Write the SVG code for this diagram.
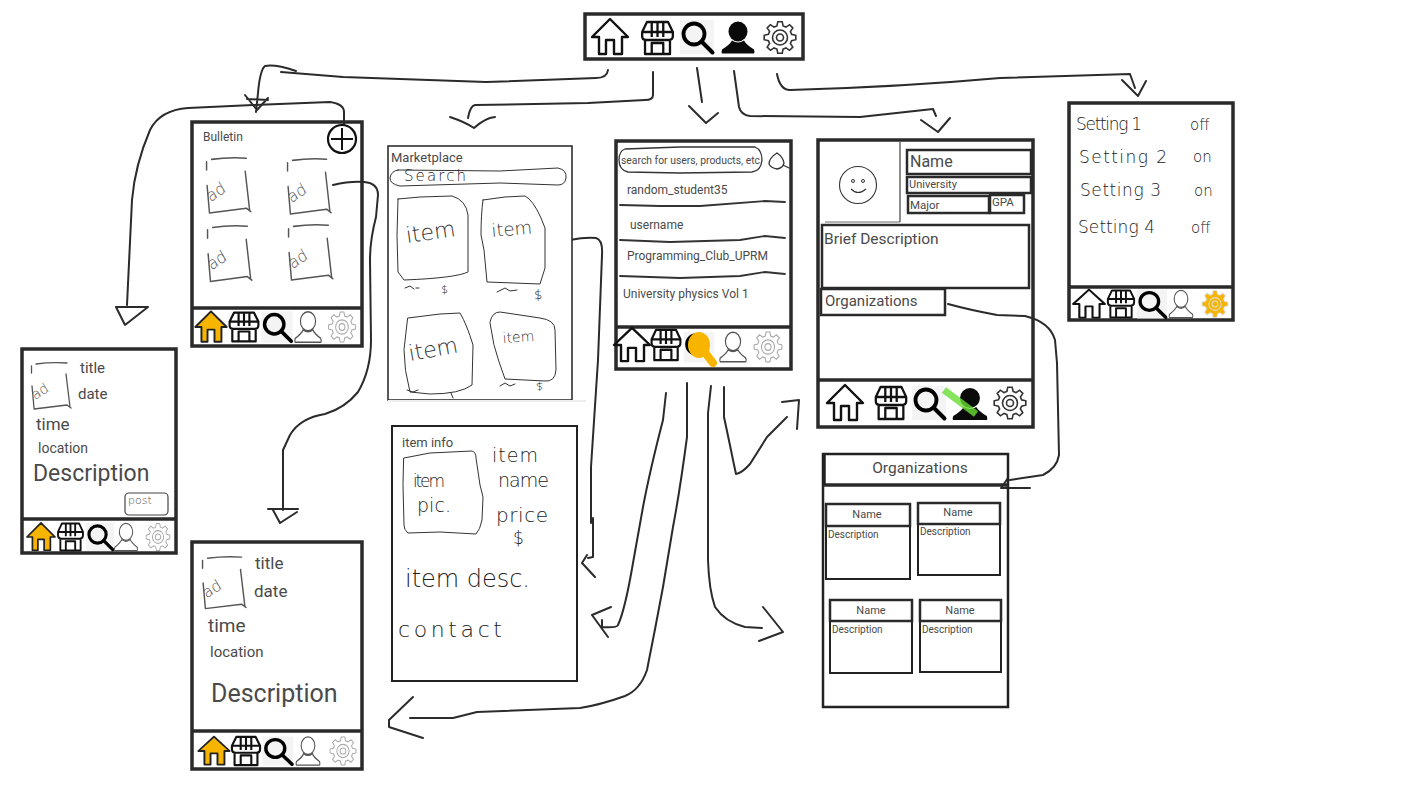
<svg xmlns="http://www.w3.org/2000/svg" xmlns:xlink="http://www.w3.org/1999/xlink" width="1422" height="800" viewBox="0 0 1422 800">
<style>
text{font-family:Roboto,"Liberation Sans",sans-serif;fill:#4a4a4a}
.hand{font-family:"DejaVu Sans",sans-serif;font-weight:200;fill:#222}
.f{fill:none;stroke:#2a2a2a;stroke-width:3.5}
.f2{fill:none;stroke:#222;stroke-width:2}
.f1{fill:none;stroke:#222;stroke-width:1.5}
.b{fill:#fff;stroke:#2a2a2a;stroke-width:2.5}
.sk{fill:none;stroke:#333;stroke-width:1;stroke-linecap:round;stroke-linejoin:round}
.sk2{fill:none;stroke:#555;stroke-width:1.3;stroke-linecap:round;stroke-linejoin:round}
.w{fill:none;stroke:#333;stroke-width:1.8;stroke-linecap:round}
.c path{fill:none;stroke:#2b2b2b;stroke-width:2;stroke-linecap:round;stroke-linejoin:round}
.dk{fill:none;stroke:#111;stroke-width:2.4;stroke-linejoin:round}
.or{fill:#f7b500;stroke:#222;stroke-width:2.2;stroke-linejoin:round}
.us{fill:#0a0a0a;stroke:none}
.ol{fill:none;stroke:#555;stroke-width:1.5}
.gd{fill:none;stroke:#333;stroke-width:1.6}
.gl{fill:none;stroke:#aaa;stroke-width:1.2}
.go{fill:#f7b500;stroke:#ddd;stroke-width:1.2}
</style>
<defs>
<g id="i-home"><path d="M0-18 18 0H12V17H4V3H-4V17H-11V0H-18Z"/></g>
<g id="i-store"><path d="M-11-16H11L16-6V-2Q16 2 12 2H-12Q-16 2-16-2V-6ZM-16-6H16M-6-16V-1M0-16V-1M6-16V-1M-13 2V16H13V2M-6 16V5H6V16"/></g>
<g id="i-search"><rect x="-17" y="-17" width="34" height="34" fill="#f4f4f4" stroke="none"/><circle cx="-3" cy="-3" r="10.500" fill="none" stroke="#000" stroke-width="3.800"/><path d="M4.500 4.500 15.500 15.500" fill="none" stroke="#000" stroke-width="4" stroke-linecap="round"/></g>
<g id="i-user"><ellipse cx="0" cy="-6" rx="9.500" ry="10"/><path d="M-6 3Q-8 7-16 12-17 15-16 16H16Q17 15 16 12 8 7 6 3Q0 7-6 3Z"/></g>
<g id="i-gear"><path d="M11.600-3.100 15.800-2.200V2.200L11.600 3.100 10.400 6 12.800 9.600 9.600 12.800 6 10.400 3.100 11.600 2.200 15.800H-2.200L-3.100 11.600-6 10.400-9.600 12.800-12.800 9.600-10.400 6-11.600 3.100-15.800 2.200V-2.200L-11.600-3.100-10.400-6-12.800-9.600-9.600-12.800-6-10.400-3.100-11.600-2.200-15.800H2.200L3.100-11.600 6-10.400 9.600-12.800 12.800-9.600 10.400-6Z"/><circle r="7.500"/><circle r="3.500"/></g>
<g id="ad"><path class="sk2" d="M5 2Q20 0 36 1M0.500 4V11M1 24 3 46M3 47 36 43 40 46M35 12 39 45"/><text class="hand" font-size="14" transform="translate(4 38) rotate(-32)" style="fill:#555">ad</text></g>
</defs>

<g id="connectors" class="c">
<path d="M608 70Q607 78 596 78L486 82 343 77 281 72"/>
<path d="M296 71Q275 64 265 66 260 70 258 93L256 112M245 95 257 110 268 98M247 99 268 100"/>
<path d="M344 125V112Q344 104 330 102L253 105 188 108Q160 110 150 130 135 165 132 200L127 305M116 307H148L125 325 116 307"/>
<path d="M653 72V95Q653 100 645 100L588 103 475 105Q470 106 468 118M450 117Q465 122 474 128 485 118 495 117"/>
<path d="M697 68 702 102M689 106 706 123 718 113"/>
<path d="M734 71 739 107Q741 115 750 116L860 117 933 109 936 116M921 120 938 132 950 118"/>
<path d="M777 74Q780 90 790 90 900 87 1000 78L1130 74 1135 88M1122 80 1138 96 1146 81"/>
<path d="M333 185Q350 181 364 182 378 183 378 195L376 217Q370 240 370 260L371 340Q371 370 358 392 345 408 325 414 300 418 290 435L283 450V510M268 509H298M273 510 280 523 297 512"/>
<path d="M570 240Q585 237 596 238 603 240 602 255L598 360 591 467V523M593 518V557L588 558M587 555 582 563 595 577"/>
<path d="M666 393 663 420Q650 470 643 507L633 563Q625 610 618 625 617 628 602 627V620M611 607 592 615 608 637"/>
<path d="M687 383V437Q680 490 673 527L663 587Q655 630 647 670 640 690 625 696 600 705 580 708L477 712 453 718H410M413 697 389 720V727L423 738"/>
<path d="M711 386 708 413V560Q709 590 715 607 725 622 745 627L762 628M763 607 783 632 759 641"/>
<path d="M724 387V417Q730 445 733 460L736 474Q742 473 750 464L767 437 787 417M782 402 799 400 797 429"/>
<path d="M948 304Q970 310 997 315L1025 316Q1050 322 1055 340L1057 363 1059 455Q1057 468 1043 475L1010 480M1008 478 1001 488H1030"/>
</g>

<g id="top-bar">
<rect class="f" x="585" y="14" width="218" height="45" style="fill:#fff"/>
<use href="#i-home" class="dk" transform="translate(610 37)"/>
<use href="#i-store" class="dk" transform="translate(657.500 38) scale(.96 1)"/>
<use href="#i-search" transform="translate(697 37)"/>
<use href="#i-user" class="us" transform="translate(738 37.500)"/>
<use href="#i-gear" class="gd" transform="translate(780 37.500)"/>
</g>

<g id="bulletin">
<rect class="f" x="192" y="122" width="170" height="224"/>
<path class="f" d="M192 308H362"/>
<text x="203" y="141" font-size="12">Bulletin</text>
<circle cx="342" cy="139" r="14" fill="#fff" stroke="#111" stroke-width="2.200"/>
<path d="M342 128V150M331 139H353" stroke="#111" stroke-width="2" fill="none"/>
<use href="#ad" transform="translate(206 157) scale(1.120 1.190)"/>
<use href="#ad" transform="translate(287 158) scale(1.100 1.190)"/>
<use href="#ad" transform="translate(207 225) scale(1.120 1.200)"/>
<use href="#ad" transform="translate(288 224) scale(1.120 1.190)"/>
<use href="#i-home" class="or" transform="translate(211 327) scale(.87)"/>
<use href="#i-store" class="dk" transform="translate(244 327) scale(.9)"/>
<use href="#i-search" transform="translate(277 327) scale(.92)"/>
<use href="#i-user" class="ol" transform="translate(308 327) scale(.8 .95)"/>
<use href="#i-gear" class="gl" transform="translate(342 327) scale(.85 .95)"/>
</g>

<g id="post-editor">
<rect class="f" x="22" y="349" width="154" height="204"/>
<path class="f" d="M22 519H176"/>
<use href="#ad" transform="translate(31 362)"/>
<text x="80" y="373" font-size="15">title</text>
<text x="78" y="399" font-size="15">date</text>
<text x="36" y="430" font-size="17">time</text>
<text x="38" y="453" font-size="14">location</text>
<text x="33" y="481" font-size="23">Description</text>
<rect x="125" y="493" width="43" height="22" rx="4" fill="#fff" stroke="#444" stroke-width="1.200"/>
<text class="hand" x="128" y="504" font-size="11" style="fill:#555">post</text>
<use href="#i-home" class="or" transform="translate(41 537) scale(.78)"/>
<use href="#i-store" class="dk" transform="translate(70.500 537) scale(.78 .85)"/>
<use href="#i-search" transform="translate(100 537) scale(.82)"/>
<use href="#i-user" class="ol" transform="translate(126 537) scale(.7 .85)"/>
<use href="#i-gear" class="gl" transform="translate(158 537) scale(.75 .85)"/>
</g>

<g id="post-detail">
<rect class="f" x="192" y="542" width="170" height="227"/>
<path class="f" d="M192 731H362"/>
<use href="#ad" transform="translate(202 556) scale(1.100 1.120)"/>
<text x="255" y="569" font-size="17">title</text>
<text x="254" y="597" font-size="17">date</text>
<text x="208" y="632" font-size="19">time</text>
<text x="210" y="657" font-size="15">location</text>
<text x="211" y="702" font-size="25">Description</text>
<use href="#i-home" class="or" transform="translate(214 751) scale(.87 .8)"/>
<use href="#i-store" class="dk" transform="translate(246 751) scale(.88 .88)"/>
<use href="#i-search" transform="translate(278 751) scale(.9 .85)"/>
<use href="#i-user" class="ol" transform="translate(308 751) scale(.72 .88)"/>
<use href="#i-gear" class="gl" transform="translate(343 751) scale(.82 .88)"/>
</g>

<g id="marketplace">
<rect x="388" y="146" width="184" height="254" fill="#fff" stroke="#222" stroke-width="1.500"/>
<path d="M388 401H586" stroke="#eee" stroke-width="2" fill="none"/>
<text x="391" y="162" font-size="13">Marketplace</text>
<path class="sk" d="M398 170 500 171 558 168Q567 170 566 178 565 185 558 185L500 183 400 186Q390 184 390 178 391 171 398 170Z"/>
<text class="hand" x="404" y="181" font-size="15" textLength="62" lengthAdjust="spacing">Search</text>
<path class="sk" d="M398 199 420 197 452 196Q466 200 468 215L468 272Q455 278 404 280L398 272Q396 235 398 199Z"/>
<path class="sk" d="M483 200 505 197 525 196Q533 200 541 218L545 228 545 268 540 284 487 282 484 250 481 235Q481 215 483 200Z"/>
<path class="sk" d="M408 318 440 314 460 313Q467 325 473 345L472 385Q460 394 430 394L410 392Q404 370 404 350Z"/>
<path class="sk" d="M490 322Q492 312 500 312L540 318Q555 320 555 330L556 370Q555 382 545 381L505 379Q498 360 494 345Z"/>
<text class="hand" transform="translate(407 243) rotate(-8)" font-size="22" style="fill:#333">item</text>
<text class="hand" transform="translate(492 237) rotate(-5)" font-size="18" style="fill:#333">item</text>
<text class="hand" transform="translate(410 361) rotate(-10)" font-size="22" style="fill:#333">item</text>
<text class="hand" transform="translate(503 343) rotate(-4)" font-size="14" style="fill:#333">item</text>
<path class="sk" d="M405 288 410 286 414 289M416 288H419M497 292 505 288 510 291 517 290M500 386 505 383 510 386 515 384M407 390 413 392 418 390"/>
<text class="hand" x="441" y="293" font-size="11">$</text>
<text class="hand" x="534" y="299" font-size="13">$</text>
<text class="hand" x="533" y="393" font-size="11" transform="rotate(180 538 388)">$</text>
<path class="sk" d="M451 393 453 398"/>
</g>

<g id="item-info">
<rect class="f2" x="392" y="426" width="185" height="255"/>
<text x="402" y="447" font-size="13">item info</text>
<path class="sk" d="M404 458 430 453 472 451Q476 452 476 458L480 485 483 497 482 520Q480 530 476 534L440 532 408 533Q404 530 404 525L403 485Z"/>
<text class="hand" x="413" y="487" font-size="17" textLength="32" lengthAdjust="spacing">item</text>
<text class="hand" x="417" y="512" font-size="19" textLength="34" lengthAdjust="spacing">pic.</text>
<text class="hand" x="492" y="462" font-size="19" textLength="46" lengthAdjust="spacing">item</text>
<text class="hand" x="498" y="487" font-size="19" textLength="51" lengthAdjust="spacing">name</text>
<text class="hand" x="496" y="522" font-size="20" textLength="52" lengthAdjust="spacing">price</text>
<text class="hand" x="513" y="544" font-size="17">$</text>
<text class="hand" x="405" y="587" font-size="24" textLength="125" lengthAdjust="spacing">item desc.</text>
<text class="hand" x="398" y="637" font-size="22" textLength="104" lengthAdjust="spacing">contact</text>
</g>

<g id="search">
<rect class="f" x="616" y="141" width="175" height="228"/>
<path class="f" d="M616 327H791"/>
<path class="sk2" style="stroke:#333" d="M625 149 680 147 755 147Q762 150 762 160 761 171 752 172L680 173 628 172Q619 170 619 160 619 151 625 149Z"/>
<text x="621" y="164" font-size="10.500" textLength="139" lengthAdjust="spacingAndGlyphs">search for users, products, etc</text>
<path class="sk" style="stroke-width:1.300" d="M777 153Q769 158 769 164 771 168 777 169 783 168 784 163 783 157 777 153M783 165 789 168"/>
<text x="627" y="194" font-size="12">random_student35</text>
<path class="w" d="M620 205 660 206 700 206 765 201 785 202"/>
<text x="630" y="229" font-size="12">username</text>
<path class="w" d="M620 240 670 242 740 240 765 236 785 238"/>
<text x="627" y="260" font-size="12">Programming_Club_UPRM</text>
<path class="w" d="M620 276 680 278 740 276 765 272 785 274"/>
<text x="623" y="298" font-size="12">University physics Vol 1</text>
<use href="#i-home" class="dk" transform="translate(632 345) scale(1 .95)"/>
<use href="#i-store" class="dk" transform="translate(666 345) scale(.9 .95)"/>
<use href="#i-search" transform="translate(699 347) scale(.9)"/>
<ellipse cx="699" cy="345" rx="11" ry="13" fill="#f7b500"/>
<path d="M703 350 713 363" fill="none" stroke="#f7b500" stroke-width="8" stroke-linecap="round"/>
<use href="#i-user" class="ol" transform="translate(733 347) scale(.8 .92)"/>
<use href="#i-gear" class="gl" transform="translate(768 347) scale(.88 .95)"/>
</g>

<g id="profile">
<rect class="f" x="818" y="140" width="215" height="287"/>
<path class="f" d="M818 380H1033"/>
<path d="M900 142V222" stroke="#666" stroke-width="1.500" fill="none"/>
<path d="M825 222H900" stroke="#666" stroke-width="1" fill="none"/>
<circle cx="858" cy="185" r="18.500" fill="#fff" stroke="#333" stroke-width="1.100"/>
<circle cx="853" cy="181" r="1.500" fill="none" stroke="#333"/>
<circle cx="863" cy="181" r="1.500" fill="none" stroke="#333"/>
<path d="M851 189Q858 196 866 189" fill="none" stroke="#333" stroke-width="1.100"/>
<rect class="b" x="907" y="150" width="124" height="24"/>
<text x="910" y="167" font-size="16">Name</text>
<rect class="b" x="907" y="177" width="124" height="16"/>
<text x="909" y="188" font-size="11">University</text>
<rect class="b" x="908" y="196" width="81" height="17"/>
<text x="910" y="209" font-size="11.500">Major</text>
<rect class="b" x="990" y="195" width="34" height="18"/>
<text x="992" y="206" font-size="11.500">GPA</text>
<rect class="b" x="822" y="225" width="207" height="63"/>
<text x="824" y="244" font-size="15.500">Brief Description</text>
<rect class="b" x="821" y="289" width="124" height="26"/>
<text x="825" y="306" font-size="15">Organizations</text>
<use href="#i-home" class="dk" transform="translate(845 403)"/>
<use href="#i-store" class="dk" transform="translate(891 403) scale(.95 1)"/>
<use href="#i-search" transform="translate(929 403)"/>
<use href="#i-user" class="us" transform="translate(970 404) scale(1.050 1)"/>
<path d="M944 390 976 414" stroke="#66dd33" stroke-width="7" opacity=".8" fill="none"/>
<use href="#i-gear" class="gd" transform="translate(1010 403)"/>
</g>

<g id="settings">
<rect class="f" x="1069" y="103" width="164" height="217"/>
<path class="f" d="M1069 287H1233"/>
<text class="hand" x="1076" y="130" font-size="17" textLength="66" lengthAdjust="spacing">Setting 1</text>
<text class="hand" x="1190" y="130" font-size="15">off</text>
<text class="hand" x="1079" y="163" font-size="17" textLength="88" lengthAdjust="spacing">Setting 2</text>
<text class="hand" x="1193" y="162" font-size="15">on</text>
<text class="hand" x="1080" y="196" font-size="17" textLength="81" lengthAdjust="spacing">Setting 3</text>
<text class="hand" x="1194" y="196" font-size="15">on</text>
<text class="hand" x="1078" y="233" font-size="17" textLength="77" lengthAdjust="spacing">Setting 4</text>
<text class="hand" x="1191" y="233" font-size="15">off</text>
<use href="#i-home" class="dk" transform="translate(1089 304) scale(.88 .8)"/>
<use href="#i-store" class="dk" transform="translate(1121 304) scale(.82 .85)"/>
<use href="#i-search" transform="translate(1152 304) scale(.88 .85)"/>
<use href="#i-user" class="ol" transform="translate(1181 304) scale(.72 .85)"/>
<use href="#i-gear" class="go" transform="translate(1215 304) scale(.82 .85)"/>
</g>

<g id="organizations">
<rect class="f2" style="stroke-width:2.500" x="823" y="454" width="185" height="253"/>
<path class="f" d="M823 485H1008"/>
<path d="M824 455V485" stroke="#222" stroke-width="3.500"/>
<text x="920" y="473" font-size="15.500" text-anchor="middle">Organizations</text>
<rect class="f2" x="826" y="504" width="84" height="75"/>
<rect class="f" style="stroke-width:2.500" x="826" y="504" width="84" height="22"/>
<text x="867" y="518" font-size="11" text-anchor="middle">Name</text>
<text x="828" y="538" font-size="10">Description</text>
<rect class="f2" x="918" y="503" width="82" height="72"/>
<rect class="f" style="stroke-width:2.500" x="918" y="503" width="82" height="21"/>
<text x="958" y="516" font-size="11" text-anchor="middle">Name</text>
<text x="920" y="535" font-size="10">Description</text>
<rect class="f2" x="830" y="600" width="82" height="73"/>
<rect class="f" style="stroke-width:2.500" x="830" y="600" width="82" height="21"/>
<text x="871" y="614" font-size="11" text-anchor="middle">Name</text>
<text x="832" y="633" font-size="10">Description</text>
<rect class="f2" x="920" y="600" width="81" height="72"/>
<rect class="f" style="stroke-width:2.500" x="920" y="600" width="81" height="21"/>
<text x="960" y="614" font-size="11" text-anchor="middle">Name</text>
<text x="922" y="633" font-size="10">Description</text>
</g>
</svg>
